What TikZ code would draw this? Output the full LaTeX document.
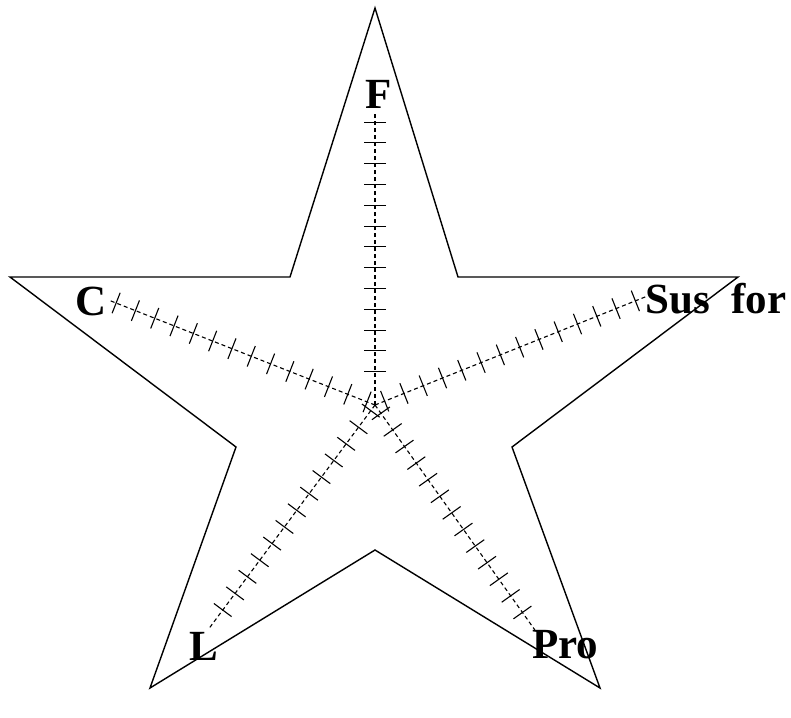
\documentclass[tikz,border=0pt]{standalone}
\usepackage{fontspec}
\setmainfont{Liberation Serif}
\usetikzlibrary{calc}
\tikzset{
  starline/.style={line width=1.4pt, line join=miter},
  axisline/.style={line width=1.1pt, dash pattern=on 4pt off 3pt},
  tickline/.style={line width=1.1pt},
  lbl/.style={font=\fontsize{43}{43}\selectfont\bfseries, inner sep=0pt, anchor=base west}
}
\begin{document}
\begin{tikzpicture}[x=1pt,y=-1pt]
\useasboundingbox (0,0) rectangle (791,717);
% star outline
\draw[starline] (375,8) -- (458,277) -- (738,277) -- (512,447) -- (600,688)
  -- (375,550) -- (150,688) -- (236,447) -- (10,277) -- (290,277) -- cycle;
% centre and axis ends
\coordinate (O) at (375,405);
\coordinate (eF) at ($(O)+(-90:292)$);
\coordinate (eC) at ($(O)+(-158.5:287)$);
\coordinate (eS) at ($(O)+(-21.8:291)$);
\coordinate (eP) at ($(O)+(54.6:276)$);
\coordinate (eL) at ($(O)+(126.6:277)$);
% axes
\draw[axisline] (O) -- (eF);
\draw[axisline] (O) -- (eC);
\draw[axisline] (O) -- (eS);
\draw[axisline] (O) -- (eP);
\draw[axisline] (O) -- (eL);
% ticks
\foreach \k in {0,...,12}
  \draw[tickline] ($(O)+(-90:33.3+20.8*\k)+(0:11)$) -- ($(O)+(-90:33.3+20.8*\k)+(180:11)$);
\foreach \k in {0,...,13}
  \draw[tickline] ($(O)+(-158.5:8.5+20.75*\k)+(-68.5:11)$) -- ($(O)+(-158.5:8.5+20.75*\k)+(111.5:11)$);
\foreach \k in {0,...,13}
  \draw[tickline] ($(O)+(-21.8:10.4+20.77*\k)+(68.2:11)$) -- ($(O)+(-21.8:10.4+20.77*\k)+(-111.8:11)$);
\foreach \k in {0,...,12}
  \draw[tickline] ($(O)+(54.6:10.2+20.36*\k)+(144.6:11)$) -- ($(O)+(54.6:10.2+20.36*\k)+(-35.4:11)$);
\foreach \k in {0,...,12}
  \draw[tickline] ($(O)+(126.6:7+20.7*\k)+(216.6:11)$) -- ($(O)+(126.6:7+20.7*\k)+(36.6:11)$);
% labels
\node[lbl] (F) at (365,108) {F};
\node[lbl] (C) at (75,315) {C};
\node[lbl] (Sus) at (645,313) {Sus~~for};
\node[lbl] (L) at (189,660) {L};
\node[lbl] (Pro) at (532,658) {Pro};
\end{tikzpicture}
\end{document}
